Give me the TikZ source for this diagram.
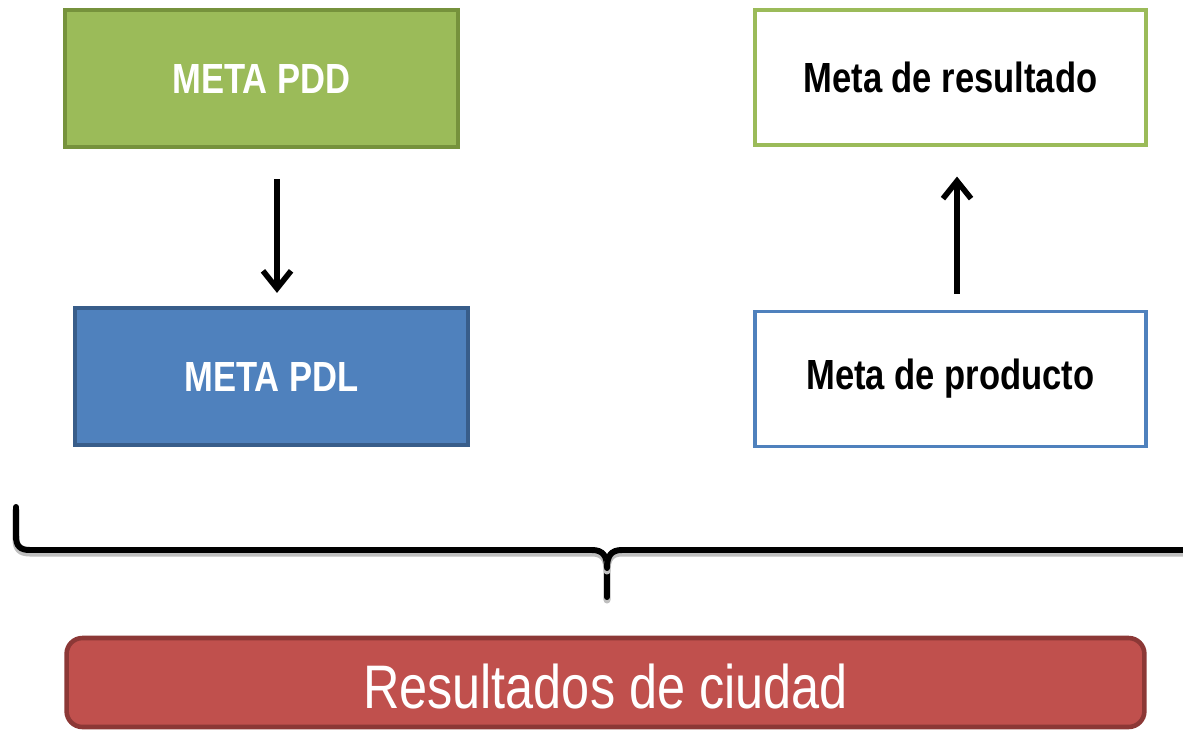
\documentclass[tikz,border=0pt]{standalone}
\usepackage{fontspec}
\setmainfont{Liberation Sans}
\newfontfamily\narrowfont[FakeStretch=0.82]{Liberation Sans}
\usetikzlibrary{arrows.meta}
\definecolor{pddfill}{HTML}{9BBB59}
\definecolor{pddline}{HTML}{76923C}
\definecolor{pdlfill}{HTML}{4F81BD}
\definecolor{pdlline}{HTML}{385D8A}
\definecolor{cityfill}{HTML}{C0504D}
\definecolor{cityline}{HTML}{8C3836}
\tikzset{
  goalbox/.style={draw, line width=2.4pt, minimum width=7.86cm, minimum height=2.74cm,
    font=\narrowfont\fontsize{24}{28}\selectfont\bfseries, inner sep=0pt},
  thinbox/.style={goalbox, fill=white, line width=1.8pt, minimum width=7.82cm, minimum height=2.7cm},
  flow/.style={line width=3.2pt, -{Straight Barb[length=10pt,width=16pt,line width=3.2pt]}},
}
\begin{document}
\begin{tikzpicture}[x=0.02cm,y=-0.02cm]
  \useasboundingbox (0,0) rectangle (1183,730);
  \draw
    (261.5,78.5) node[goalbox, fill=pddfill, draw=pddline, text=white] (pdd){META PDD}
    (271.5,376.5) node[goalbox, fill=pdlfill, draw=pdlline, text=white] (pdl){META PDL}
    (950.5,77.5) node[thinbox, draw=pddfill] (result){Meta de resultado}
    (950.5,379) node[thinbox, draw=pdlfill] (product){Meta de producto}
    (605.5,682.5) node[draw=cityline, fill=cityfill, line width=2.6pt, rounded corners=9pt,
      minimum width=21.56cm, minimum height=1.78cm, text=white, text height=1.02cm, text depth=0pt,
      inner ysep=0pt, font=\narrowfont\fontsize{35}{40}\selectfont] (city){Resultados de ciudad};
  \begin{scope}[flow]
    \draw[shorten <=0.6cm, shorten >=0.26cm] ([xshift=0.31cm]pdd.south) to ([xshift=0.11cm]pdl.north);
    \draw[shorten <=0.32cm, shorten >=0.6cm] ([xshift=0.13cm]product.north) to ([xshift=0.13cm]result.south);
  \end{scope}
  % brace
  \begin{scope}[line width=3.4pt, line cap=round]
    \draw[black!25, line width=4pt, yshift=-0.06cm] (16,507) -- (16,536) .. controls (16,546) and (20,550) .. (30,550)
      -- (592,550) .. controls (603,550) and (607,556) .. (607,568) -- (607,597);
    \draw (16,507) -- (16,536) .. controls (16,546) and (20,550) .. (30,550)
      -- (592,550) .. controls (603,550) and (607,556) .. (607,568) -- (607,597);
    \draw[black!25, line width=4pt, yshift=-0.06cm] (1190,550) -- (622,550) .. controls (611,550) and (607,556) .. (607,568);
    \draw (1190,550) -- (622,550) .. controls (611,550) and (607,556) .. (607,568);
  \end{scope}
\end{tikzpicture}
\end{document}
